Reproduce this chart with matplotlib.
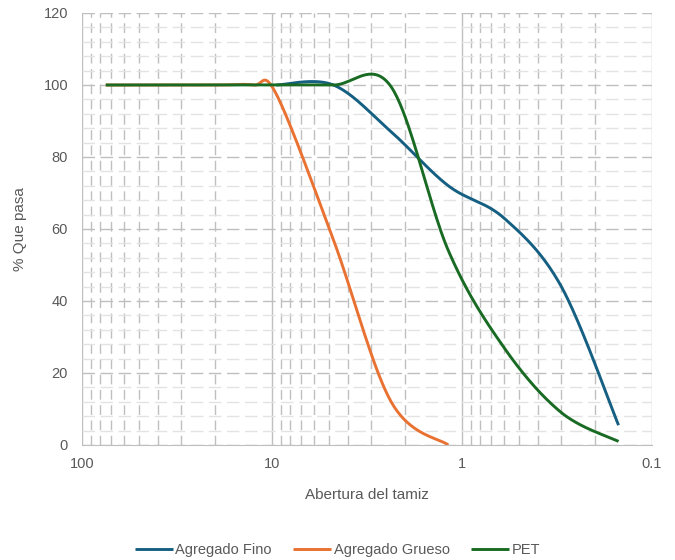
import numpy as np
import matplotlib.pyplot as plt
from matplotlib.ticker import FixedLocator, NullFormatter

# sieve openings (mm) and % passing
fino_x = [9.5, 4.75, 2.36, 1.18, 0.6, 0.3, 0.15]
fino_y = [100, 100, 87, 72, 63, 44, 5.5]

grueso_x = [75, 50, 37.5, 25, 19, 12.5, 9.5, 4.75, 2.36, 1.18]
grueso_y = [100, 100, 100, 100, 100, 100, 97.5, 57, 12, 0]

pet_x = [75, 50, 37.5, 25, 19, 12.5, 9.5, 4.75, 2.36, 1.18, 0.6, 0.3, 0.15]
pet_y = [100, 100, 100, 100, 100, 100, 100, 100, 99.5, 54, 27, 9, 1]

labels = ['Agregado Fino', 'Agregado Grueso', 'PET']
colors = ['#156082', '#E97132', '#196B24']


def smooth(xs, ys, n=40):
    # Excel-like smoothed line: Bezier through the points, in log-x space
    p = np.column_stack([np.log10(xs), ys]).astype(float)
    out = [p[0]]
    for i in range(len(p) - 1):
        p0 = p[i - 1] if i > 0 else p[i]
        p3 = p[i + 2] if i + 2 < len(p) else p[i + 1]
        c1 = p[i] + (p[i + 1] - p0) / 6
        c2 = p[i + 1] - (p3 - p[i]) / 6
        t = np.linspace(0, 1, n)[1:, None]
        seg = ((1 - t) ** 3 * p[i] + 3 * (1 - t) ** 2 * t * c1
               + 3 * (1 - t) * t ** 2 * c2 + t ** 3 * p[i + 1])
        out.extend(seg)
    out = np.array(out)
    return 10 ** out[:, 0], out[:, 1]


plt.rcParams['font.family'] = ['Liberation Sans', 'DejaVu Sans']
fig = plt.figure(figsize=(6.75, 5.6), dpi=100)
ax = fig.add_axes([82 / 675, 115 / 560, 570 / 675, 432 / 560])

for xs, ys, lab, c in zip([fino_x, grueso_x, pet_x], [fino_y, grueso_y, pet_y], labels, colors):
    sx, sy = smooth(xs, ys)
    ax.plot(sx, sy, color=c, lw=2.1, label=lab, solid_capstyle='butt')

ax.set_xscale('log')
ax.set_xlim(100, 0.1)
ax.set_ylim(0, 120)
ax.xaxis.set_major_locator(FixedLocator([100, 10, 1, 0.1]))
ax.set_xticklabels(['100', '10', '1', '0.1'])
minor_x = [m * d for d in [10, 1, 0.1] for m in range(2, 10)]
ax.xaxis.set_minor_locator(FixedLocator(minor_x))
ax.xaxis.set_minor_formatter(NullFormatter())
ax.set_yticks(np.arange(0, 121, 20))
ax.yaxis.set_minor_locator(FixedLocator([v for v in range(0, 121, 4) if v % 20]))

gc = '#BFBFBF'
ax.grid(which='major', axis='x', color=gc, lw=1.0, linestyle='-')
ax.grid(which='minor', axis='x', color=gc, lw=1.0, linestyle=(0, (7, 4)))
ax.grid(which='major', axis='y', color=gc, lw=1.0, linestyle=(0, (9, 4)))
ax.grid(which='minor', axis='y', color='#E3E3E3', lw=1.0, linestyle=(0, (9, 4)))
ax.set_axisbelow(True)

for s in ['top', 'right', 'left']:
    ax.spines[s].set_visible(False)
ax.spines['bottom'].set_color(gc)
ax.tick_params(which='both', length=0, colors='#595959', labelsize=10.5)
ax.tick_params(axis='x', pad=9)
ax.tick_params(axis='y', pad=10)

ax.set_xlabel('Abertura del tamiz', fontsize=11, color='#595959', labelpad=12)
ax.set_ylabel('% Que pasa', fontsize=11, color='#595959', labelpad=12)

leg = fig.legend(loc='lower center', bbox_to_anchor=(0.5, -0.018), ncol=3, frameon=False,
                 fontsize=10.5, handlelength=2.6, handletextpad=0.15, columnspacing=1.5)
for t in leg.get_texts():
    t.set_color('#595959')

fig.savefig('out.png', dpi=100)
